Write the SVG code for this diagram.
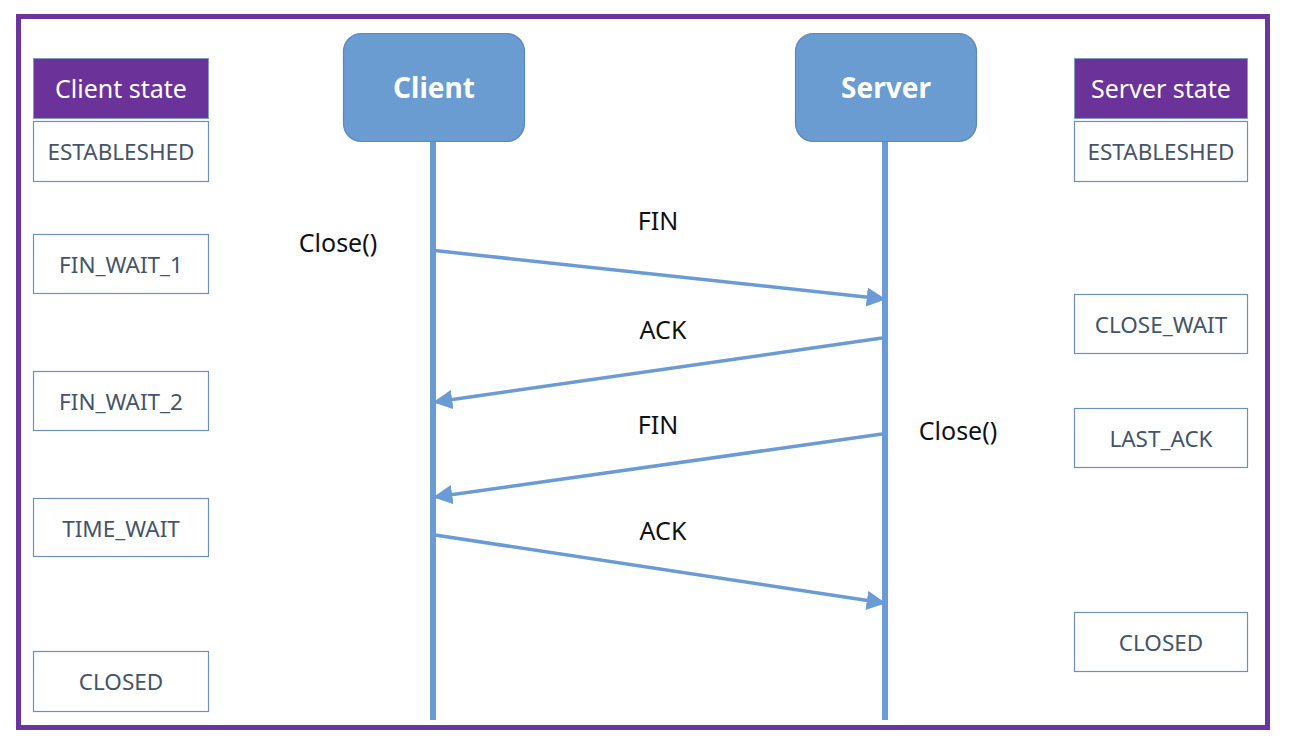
<svg xmlns="http://www.w3.org/2000/svg" width="1294" height="744" viewBox="0 0 1294 744">
<style>
.frame{fill:none;stroke:#6b35a0;stroke-width:5}
.hdr{fill:#6b3399;stroke:#7f9cc4;stroke-width:1}
.hdrt{font-family:"Noto Sans","Open Sans",sans-serif;font-size:25px;fill:#ffffff;text-anchor:middle}
.st{fill:#ffffff;stroke:#6f8fb8;stroke-width:1.2}
.stt{font-family:"Noto Sans","Open Sans",sans-serif;font-size:22.5px;fill:#44546a;text-anchor:middle}
.ent{fill:#6a9bd1;stroke:#5a88bd;stroke-width:1.2}
.entt{font-family:"Noto Sans","Open Sans",sans-serif;font-size:28px;font-weight:bold;fill:#ffffff;text-anchor:middle}
.life{stroke:#6a9bd5;stroke-width:6}
.msg{stroke:#6a9bd5;stroke-width:3.5;fill:none;marker-end:url(#ah)}
.lbl{font-family:"Noto Sans","Open Sans",sans-serif;font-size:25px;fill:#111111;text-anchor:middle}
</style>
<defs>
<marker id="ah" viewBox="0 0 10 10" refX="9" refY="5" markerWidth="5.5" markerHeight="5.5" markerUnits="strokeWidth" orient="auto">
<path d="M0,0 L10,5 L0,10 z" fill="#6a9bd5"/>
</marker>
</defs>
<rect x="0" y="0" width="1294" height="744" fill="#ffffff"/>
<rect class="frame" x="18.5" y="16.5" width="1249" height="711"/>

<g id="client-state-col">
<rect class="hdr" x="33.5" y="58.5" width="175" height="60"/>
<text class="hdrt" x="121" y="98">Client state</text>
</g>
<g id="c-established"><rect class="st" x="33.5" y="121.5" width="175" height="60"/><text class="stt" x="121" y="160">ESTABLESHED</text></g>
<g id="c-fin-wait-1"><rect class="st" x="33.5" y="234.5" width="175" height="59"/><text class="stt" x="121" y="273">FIN_WAIT_1</text></g>
<g id="c-fin-wait-2"><rect class="st" x="33.5" y="371.5" width="175" height="59"/><text class="stt" x="121" y="410">FIN_WAIT_2</text></g>
<g id="c-time-wait"><rect class="st" x="33.5" y="498.5" width="175" height="58"/><text class="stt" x="121" y="537">TIME_WAIT</text></g>
<g id="c-closed"><rect class="st" x="33.5" y="651.5" width="175" height="60"/><text class="stt" x="121" y="690">CLOSED</text></g>

<g id="server-state-col">
<rect class="hdr" x="1074.5" y="58.5" width="173" height="60"/>
<text class="hdrt" x="1161" y="98">Server state</text>
</g>
<g id="s-established"><rect class="st" x="1074.5" y="121.5" width="173" height="60"/><text class="stt" x="1161" y="160">ESTABLESHED</text></g>
<g id="s-close-wait"><rect class="st" x="1074.5" y="294.5" width="173" height="59"/><text class="stt" x="1161" y="333">CLOSE_WAIT</text></g>
<g id="s-last-ack"><rect class="st" x="1074.5" y="408.5" width="173" height="59"/><text class="stt" x="1161" y="447">LAST_ACK</text></g>
<g id="s-closed"><rect class="st" x="1074.5" y="612.5" width="173" height="59"/><text class="stt" x="1161" y="651">CLOSED</text></g>

<g id="client">
<line class="life" x1="433" y1="142" x2="433" y2="720"/>
<rect class="ent" x="343.5" y="33.5" width="181" height="108" rx="18"/>
<text class="entt" x="434" y="98">Client</text>
</g>
<g id="server">
<line class="life" x1="885" y1="142" x2="885" y2="720"/>
<rect class="ent" x="795.5" y="33.5" width="181" height="108" rx="18"/>
<text class="entt" x="886" y="98">Server</text>
</g>

<g id="connectors">
<line class="msg" x1="430" y1="250" x2="884" y2="299"/>
<line class="msg" x1="882" y1="338" x2="435" y2="402"/>
<line class="msg" x1="882" y1="434" x2="435" y2="497"/>
<line class="msg" x1="435" y1="535" x2="884" y2="603"/>
</g>

<g id="labels">
<text class="lbl" x="338" y="252">Close()</text>
<text class="lbl" x="958" y="440">Close()</text>
<text class="lbl" x="658" y="230">FIN</text>
<text class="lbl" x="663" y="339">ACK</text>
<text class="lbl" x="658" y="434">FIN</text>
<text class="lbl" x="663" y="540">ACK</text>
</g>
</svg>
